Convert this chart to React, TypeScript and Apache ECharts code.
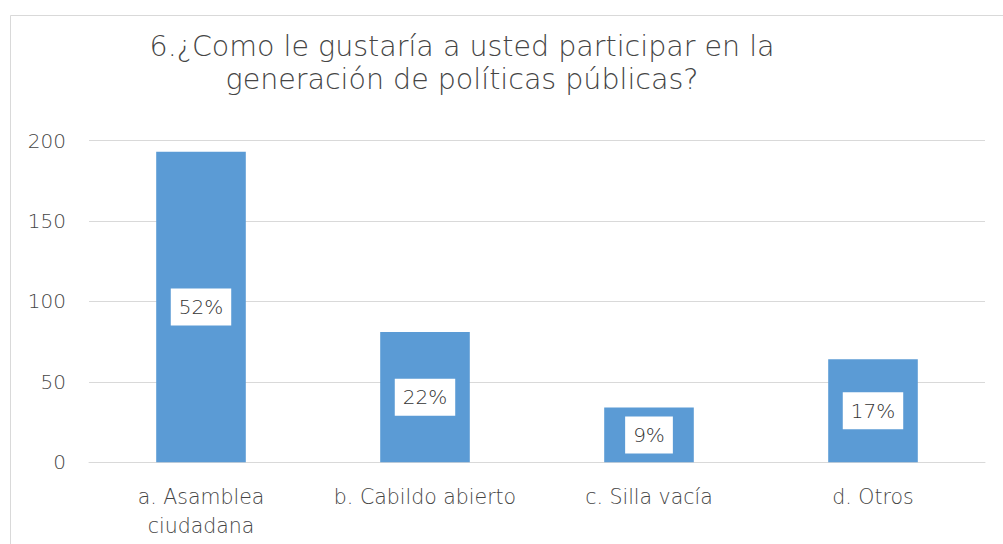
import React, { useEffect, useRef } from "react";
import * as echarts from "echarts";

const titleLines = ["6.¿Como le gustaría a usted participar en la", "generación de políticas públicas?"];
const categories = ["a. Asamblea\nciudadana", "b. Cabildo abierto", "c. Silla vacía", "d. Otros"];
const counts = [193, 81, 34, 64];
const yTicks = { min: 0, max: 200, interval: 50 };

const FONT = "'DejaVu Sans', sans-serif";
const TEXT = "#454545";

export default function App() {
  const ref = useRef<HTMLDivElement>(null);
  useEffect(() => {
    if (!ref.current) return;
    const chart = echarts.init(ref.current, undefined, { renderer: "svg" });
    const total = counts.reduce((a, b) => a + b, 0);
    chart.setOption({
      animation: false,
      backgroundColor: "#ffffff",
      title: {
        text: titleLines.join("\n"),
        left: 457,
        top: 25,
        textAlign: "center",
        textStyle: { fontFamily: FONT, fontSize: 28.5, fontWeight: 200, color: TEXT, lineHeight: 33 },
      },
      graphic: [
        {
          type: "rect",
          shape: { x: 10.5, y: 15.5, width: 1010, height: 560 },
          style: { fill: "none", stroke: "#D9D9D9", lineWidth: 1 },
          silent: true,
        },
      ],
      grid: { left: 89, right: 18, top: 140.5, bottom: 81.7, containLabel: false },
      xAxis: {
        type: "category",
        data: categories,
        axisLine: { show: true, lineStyle: { color: "#D9D9D9", width: 1 } },
        axisTick: { show: false },
        axisLabel: {
          interval: 0,
          hideOverlap: false,
          fontFamily: FONT,
          fontSize: 20.5,
          fontWeight: 200,
          color: TEXT,
          margin: 20,
          lineHeight: 29,
        },
      },
      yAxis: {
        type: "value",
        min: yTicks.min,
        max: yTicks.max,
        interval: yTicks.interval,
        axisLine: { show: false },
        axisTick: { show: false },
        splitLine: { lineStyle: { color: "#D9D9D9", width: 1 } },
        axisLabel: { fontFamily: FONT, fontSize: 20, fontWeight: 200, color: TEXT, margin: 23 },
      },
      series: [
        {
          type: "bar",
          data: counts,
          barWidth: "40%",
          itemStyle: { color: "#5B9BD5" },
          label: {
            show: true,
            position: "inside",
            formatter: (p: any) => Math.round((p.value / total) * 100) + "%",
            fontFamily: FONT,
            fontSize: 20,
            fontWeight: 200,
            color: "#333333",
            backgroundColor: "#ffffff",
            padding: [9, 8, 8, 8],
          },
        },
      ],
    });
    return () => chart.dispose();
  }, []);
  return <div ref={ref} style={{ position: "fixed", left: 0, top: 0, width: 1003, height: 544 }} />;
}
